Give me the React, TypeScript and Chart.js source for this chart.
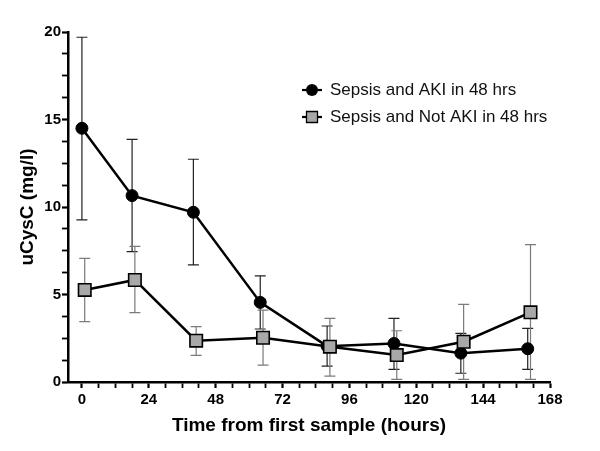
import React, { useEffect, useRef } from 'react';
import { Chart, registerables } from 'chart.js';

Chart.register(...registerables);

const FONT = '"Liberation Sans", Arial, Helvetica, sans-serif';

const seriesNames = ['Sepsis and AKI in 48 hrs', 'Sepsis and Not AKI in 48 hrs'];

const akiTime = [0, 18, 40, 64, 88, 112, 136, 160];
const akiMean = [14.5, 10.65, 9.7, 4.55, 2.05, 2.2, 1.65, 1.9];
const akiUpper = [19.7, 13.87, 12.73, 6.07, 3.2, 3.64, 2.78, 3.07];
const akiLower = [9.26, 7.45, 6.69, 3.03, 0.91, 0.72, 0.5, 0.72];

const notAkiTime = [1, 19, 41, 65, 89, 113, 137, 161];
const notAkiMean = [5.26, 5.83, 2.36, 2.53, 2.02, 1.54, 2.3, 3.98];
const notAkiUpper = [7.07, 7.75, 3.16, 4.11, 3.64, 2.93, 4.44, 7.85];
const notAkiLower = [3.45, 3.96, 1.52, 0.97, 0.34, 0.15, 0.15, 0.15];

const xTickValues = [0, 6, 12, 18, 24, 30, 36, 42, 48, 54, 60, 66, 72, 78, 84, 90, 96, 102, 108, 114, 120, 126, 132, 138, 144, 150, 156, 162, 168];
const xTickLabels = [0, 24, 48, 72, 96, 120, 144, 168];
const yTickValues = [0, 1.25, 2.5, 3.75, 5, 6.25, 7.5, 8.75, 10, 11.25, 12.5, 13.75, 15, 16.25, 17.5, 18.75, 20];
const yTickLabels = [0, 5, 10, 15, 20];

const xTitle = 'Time from first sample (hours)';
const yTitle = 'uCysC (mg/l)';

const errorBarPlugin = {
  id: 'errorBars',
  beforeDatasetsDraw(chart: any) {
    const ctx = chart.ctx;
    const xs = chart.scales.x;
    const ys = chart.scales.y;
    chart.data.datasets.forEach((ds: any) => {
      ctx.save();
      ctx.strokeStyle = ds.errColor;
      ctx.lineWidth = 1.2;
      const cap = 5.5;
      ds.data.forEach((p: any, i: number) => {
        const x = xs.getPixelForValue(p.x);
        const yT = ys.getPixelForValue(ds.errUpper[i]);
        const yB = ys.getPixelForValue(ds.errLower[i]);
        ctx.beginPath();
        ctx.moveTo(x, yT);
        ctx.lineTo(x, yB);
        ctx.moveTo(x - cap, yT);
        ctx.lineTo(x + cap, yT);
        ctx.moveTo(x - cap, yB);
        ctx.lineTo(x + cap, yB);
        ctx.stroke();
      });
      ctx.restore();
    });
  },
};

const legendPlugin = {
  id: 'customLegend',
  afterDraw(chart: any) {
    const ctx = chart.ctx;
    const rows = [
      { y: 90, style: 'circle', fill: '#000000', label: seriesNames[0] },
      { y: 117, style: 'rect', fill: '#a8a8a8', label: seriesNames[1] },
    ];
    ctx.save();
    rows.forEach((r) => {
      ctx.strokeStyle = '#000';
      ctx.lineWidth = 2.2;
      ctx.beginPath();
      ctx.moveTo(302, r.y);
      ctx.lineTo(322, r.y);
      ctx.stroke();
      ctx.fillStyle = r.fill;
      ctx.beginPath();
      if (r.style === 'circle') {
        ctx.arc(312, r.y, 6, 0, Math.PI * 2);
        ctx.fill();
      } else {
        ctx.rect(306.5, r.y - 5.5, 11, 11);
        ctx.fill();
        ctx.lineWidth = 1.3;
        ctx.stroke();
      }
      ctx.fillStyle = '#111';
      ctx.font = `17px ${FONT}`;
      ctx.textBaseline = 'middle';
      ctx.textAlign = 'left';
      ctx.fillText(r.label, 330, r.y);
    });
    ctx.restore();
  },
};

export default function App() {
  const ref = useRef<HTMLCanvasElement>(null);

  useEffect(() => {
    if (!ref.current) return;
    const chart = new Chart(ref.current, {
      type: 'line',
      data: {
        datasets: [
          {
            label: seriesNames[0],
            data: akiTime.map((t, i) => ({ x: t, y: akiMean[i] })),
            borderColor: '#000',
            borderWidth: 2.5,
            pointStyle: 'circle',
            pointRadius: 6,
            pointBackgroundColor: '#000',
            pointBorderColor: '#000',
            pointBorderWidth: 1,
            tension: 0,
            order: 1,
            errUpper: akiUpper,
            errLower: akiLower,
            errColor: '#222',
          } as any,
          {
            label: seriesNames[1],
            data: notAkiTime.map((t, i) => ({ x: t, y: notAkiMean[i] })),
            borderColor: '#000',
            borderWidth: 2.5,
            pointStyle: 'rect',
            pointRadius: 8.8,
            pointBackgroundColor: '#a8a8a8',
            pointBorderColor: '#000',
            pointBorderWidth: 1.6,
            tension: 0,
            order: 0,
            errUpper: notAkiUpper,
            errLower: notAkiLower,
            errColor: '#7a7a7a',
          } as any,
        ],
      },
      options: {
        animation: false,
        responsive: false,
        layout: { padding: { top: 32, right: 50, left: 0, bottom: 0 } },
        plugins: { legend: { display: false }, tooltip: { enabled: false } },
        scales: {
          x: {
            type: 'linear',
            min: -5,
            max: 168,
            afterBuildTicks: (s: any) => {
              s.ticks = xTickValues.map((v) => ({ value: v }));
            },
            afterFit: (s: any) => {
              s.height = 69;
            },
            border: { display: true, color: '#000', width: 2.5 },
            grid: {
              display: true,
              drawOnChartArea: false,
              drawTicks: true,
              tickLength: 6,
              tickColor: '#000',
              tickWidth: (c: any) => (c.tick && xTickLabels.includes(c.tick.value) ? 2.2 : 1.8),
            },
            ticks: {
              autoSkip: false,
              maxRotation: 0,
              padding: 3,
              color: '#000',
              font: { family: FONT, size: 15, weight: 'bold' },
              callback: (v: any) => (xTickLabels.includes(Number(v)) ? String(v) : ''),
            },
            title: {
              display: true,
              text: xTitle,
              color: '#000',
              font: { family: FONT, size: 19, weight: 'bold' },
              padding: { top: 0, bottom: 14 },
            },
          },
          y: {
            type: 'linear',
            min: 0,
            max: 20,
            afterBuildTicks: (s: any) => {
              s.ticks = yTickValues.map((v) => ({ value: v }));
            },
            afterFit: (s: any) => {
              s.width = 68;
            },
            border: { display: true, color: '#000', width: 2.5 },
            grid: {
              display: true,
              drawOnChartArea: false,
              drawTicks: true,
              tickLength: 6,
              tickColor: '#000',
              tickWidth: (c: any) => (c.tick && yTickLabels.includes(c.tick.value) ? 2.2 : 1.8),
            },
            ticks: {
              autoSkip: false,
              padding: 1,
              color: '#000',
              font: { family: FONT, size: 15, weight: 'bold' },
              callback: (v: any) => (yTickLabels.includes(Number(v)) ? String(v) : ''),
            },
            title: {
              display: true,
              text: yTitle,
              color: '#000',
              font: { family: FONT, size: 19, weight: 'bold' },
              padding: { top: 16, bottom: 0 },
            },
          },
        },
      } as any,
      plugins: [errorBarPlugin, legendPlugin],
    });
    return () => chart.destroy();
  }, []);

  return (
    <div style={{ position: 'absolute', left: 0, top: 0, width: 600, height: 451, background: '#fff' }}>
      <canvas ref={ref} width={600} height={451} />
    </div>
  );
}
